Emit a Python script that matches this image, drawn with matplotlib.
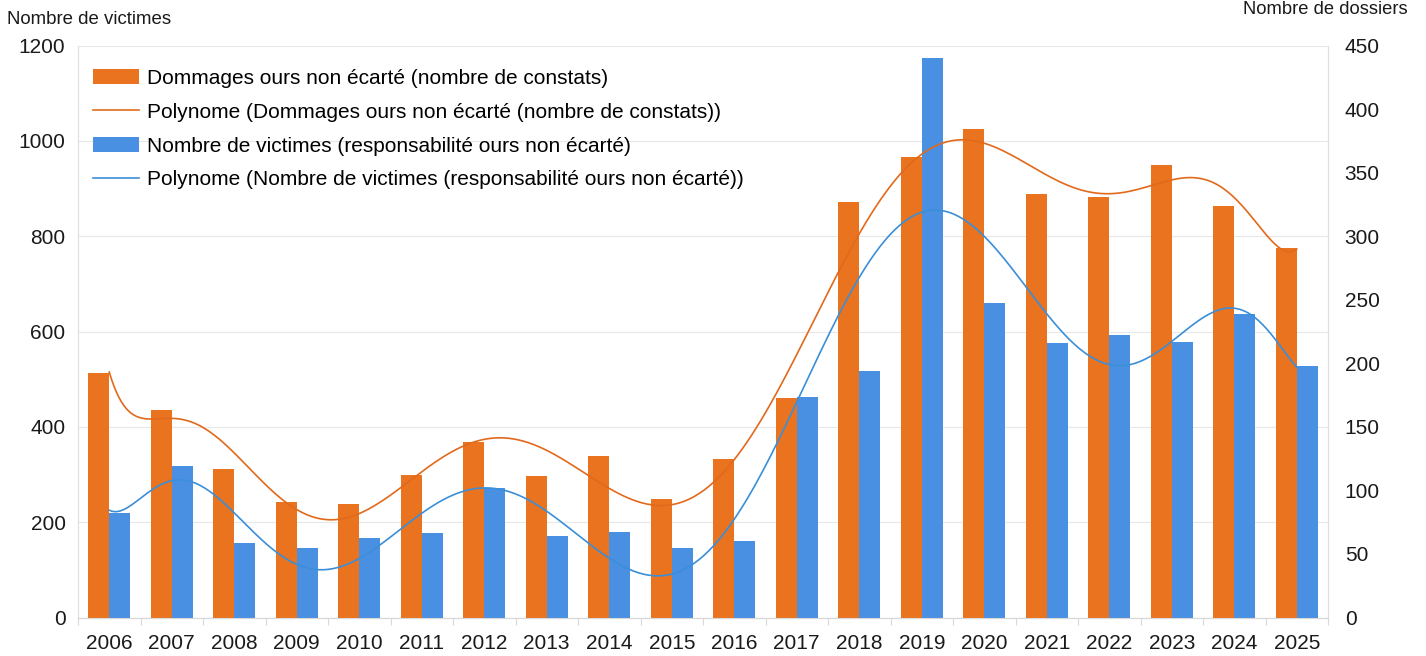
import numpy as np
import matplotlib.pyplot as plt

plt.rcParams['font.family'] = ['Liberation Sans', 'DejaVu Sans']

# Data
years = [str(y) for y in range(2006, 2026)]
# Dommages ours non écarté (nombre de constats) -> right axis (dossiers)
constats = [192, 163, 117, 91, 89, 112, 138, 111, 127, 93, 125, 173, 327, 362, 384, 333, 331, 356, 324, 291]
# Nombre de victimes (responsabilité ours non écarté) -> left axis
victimes = [220, 318, 156, 146, 167, 177, 272, 172, 179, 145, 161, 463, 517, 1174, 659, 575, 593, 579, 637, 528]

orange = '#E9731F'
blue = '#4A90E2'

x = np.arange(len(years))
xs = np.linspace(0, len(years) - 1, 500)

# polynomial trend lines (degree 10)
trend_c = np.polynomial.Polynomial.fit(x, constats, 10)
trend_v = np.polynomial.Polynomial.fit(x, victimes, 10)

fig = plt.figure(figsize=(14.26, 6.56), dpi=100)
ax = fig.add_axes([78 / 1426, 1 - 617.5 / 656, 1250 / 1426, 572 / 656])
ax2 = ax.twinx()

w = 0.336
b1 = ax2.bar(x - w / 2, constats, w, color=orange, zorder=2)
b2 = ax2.bar(x + w / 2, victimes, w, color=blue, zorder=2, transform=ax.transData)
l1, = ax2.plot(xs, trend_c(xs), color='#E2691C', lw=1.2, zorder=3)
l2, = ax2.plot(xs, trend_v(xs), color='#3A8FD8', lw=1.2, zorder=3, transform=ax.transData)

ax.set_xlim(-0.5, len(years) - 0.5)
ax.set_ylim(0, 1200)
ax2.set_ylim(0, 450)
ax.set_yticks(range(0, 1201, 200))
ax2.set_yticks(range(0, 451, 50))

ax.set_xticks(x)
ax.set_xticklabels(years)
ax.set_xticks(np.arange(-0.5, len(years), 1), minor=True)
ax.tick_params(axis='x', which='major', length=0, pad=12, labelsize=15, colors='#1a1a1a')
ax.tick_params(axis='x', which='minor', length=5, color='#d8d8d8', width=0.8)
ax.tick_params(axis='y', length=0, pad=9, labelsize=15, colors='#1a1a1a')
ax2.tick_params(axis='y', length=0, pad=12, labelsize=15, colors='#1a1a1a')

ax.grid(axis='y', color='#e8e8e8', lw=0.8)
ax.set_axisbelow(True)
for a in (ax, ax2):
    a.spines['top'].set_visible(False)
    a.spines['left'].set_color('#e0e0e0')
    a.spines['right'].set_color('#e0e0e0')
    a.spines['bottom'].set_color('#d8d8d8')
    a.spines['left'].set_linewidth(0.8)
    a.spines['right'].set_linewidth(0.8)

fig.text(7 / 1426, 1 - 20 / 656, 'Nombre de victimes', fontsize=13.4, va='center', ha='left', color='#1a1a1a')
fig.text(1408 / 1426, 1 - 10 / 656, 'Nombre de dossiers', fontsize=13.2, va='center', ha='right', color='#1a1a1a')

labels = ['Dommages ours non écarté (nombre de constats)',
          'Polynome (Dommages ours non écarté (nombre de constats))',
          'Nombre de victimes (responsabilité ours non écarté)',
          'Polynome (Nombre de victimes (responsabilité ours non écarté))']
ax2.legend([b1, l1, b2, l2], labels, loc='upper left',
           bbox_to_anchor=(93 / 1426, 1 - 69 / 656), bbox_transform=fig.transFigure,
           frameon=False, fontsize=15, borderpad=0, borderaxespad=0,
           handlelength=2.2, handletextpad=0.38, labelspacing=0.71)

plt.savefig('out.png', dpi=100)
